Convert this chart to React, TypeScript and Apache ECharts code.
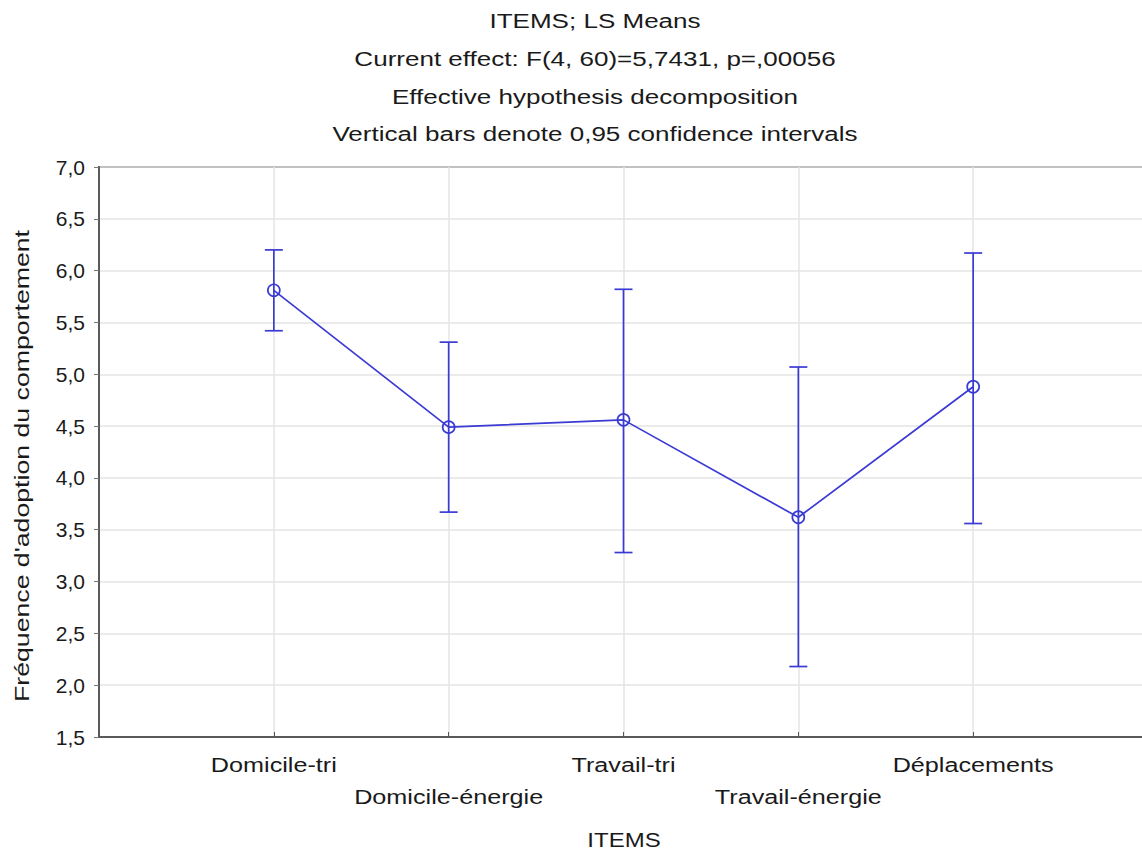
import React, { useEffect, useRef } from "react";
import * as echarts from "echarts";

const categories = ["Domicile-tri", "Domicile-énergie", "Travail-tri", "Travail-énergie", "Déplacements"];
const means = [5.81, 4.49, 4.56, 3.62, 4.88];
const lowerCI = [5.42, 3.67, 3.28, 2.18, 3.56];
const upperCI = [6.20, 5.31, 5.82, 5.07, 6.17];
const titleLines = [
  "ITEMS; LS Means",
  "Current effect: F(4, 60)=5,7431, p=,00056",
  "Effective hypothesis decomposition",
  "Vertical bars denote 0,95 confidence intervals",
];
const yAxisName = "Fréquence d'adoption du comportement";
const xAxisName = "ITEMS";

const BLUE = "#3a3ad4";
const TEXT = "#1a1a1a";
const FONT = "'Liberation Sans', Arial, sans-serif";

export default function App() {
  const ref = useRef<HTMLDivElement>(null);
  useEffect(() => {
    if (!ref.current) return;
    const chart = echarts.init(ref.current, null, { renderer: "svg" });
    const meanData = means.map((m, i) => [i + 1, m]);
    const errData = means.map((_, i) => [i + 1, lowerCI[i], upperCI[i]]);
    const labelData = categories.map((c, i) => [i + 1, 1.5, c]);
    chart.setOption({
      animation: false,
      backgroundColor: "#ffffff",
      textStyle: { fontFamily: FONT },
      graphic: [
        ...titleLines.map((t, i) => ({
          type: "text",
          x: 595,
          y: 21 + i * 37.7,
          scaleX: 1.24,
          style: {
            text: t,
            fontSize: 21,
            fontFamily: FONT,
            fill: TEXT,
            textAlign: "center",
            textVerticalAlign: "middle",
          },
        })),
        {
          type: "text",
          x: 624,
          y: 840,
          scaleX: 1.2,
          style: {
            text: xAxisName,
            fontSize: 20,
            fontFamily: FONT,
            fill: TEXT,
            textAlign: "center",
            textVerticalAlign: "middle",
          },
        },
        {
          type: "text",
          x: 22,
          y: 466,
          rotation: Math.PI / 2,
          scaleX: 1.27,
          style: {
            text: yAxisName,
            fontSize: 21,
            fontFamily: FONT,
            fill: TEXT,
            textAlign: "center",
            textVerticalAlign: "middle",
          },
        },
      ],
      grid: {
        left: 99,
        top: 167,
        right: 12,
        bottom: 114,
        show: true,
        borderColor: "#5a5a5a",
        borderWidth: 2,
        backgroundColor: "#ffffff",
      },
      xAxis: {
        type: "value",
        min: 0,
        max: 6,
        interval: 1,
        axisLine: { show: true, lineStyle: { color: "#5a5a5a", width: 2 } },
        axisTick: { show: true, inside: true, length: 5, lineStyle: { color: "#555" } },
        splitLine: { show: true, lineStyle: { color: "#e4e4e4", width: 1.5 } },
        axisLabel: { show: false },
      },
      yAxis: {
        type: "value",
        min: 1.5,
        max: 7,
        interval: 0.5,
        axisLine: { show: true, lineStyle: { color: "#5a5a5a", width: 2 } },
        axisTick: { show: true, inside: false, length: 5, lineStyle: { color: "#777" } },
        splitLine: { show: true, lineStyle: { color: "#e4e4e4", width: 1.5 } },
        axisLabel: {
          margin: 14,
          fontSize: 21,
          color: TEXT,
          fontFamily: FONT,
          formatter: (v: number) => v.toFixed(1).replace(".", ","),
        },
      },
      series: [
        {
          type: "custom",
          data: labelData,
          silent: true,
          clip: false,
          renderItem: (params: any, api: any) => {
            const idx = params.dataIndex;
            const p = api.coord([api.value(0), api.value(1)]);
            return {
              type: "text",
              x: p[0],
              y: p[1] + (idx % 2 === 1 ? 60 : 28),
              scaleX: 1.2,
              style: {
                text: categories[idx],
                fontSize: 21,
                fontFamily: FONT,
                fill: TEXT,
                textAlign: "center",
                textVerticalAlign: "middle",
              },
            };
          },
        },
        {
          type: "custom",
          data: errData,
          z: 3,
          renderItem: (params: any, api: any) => {
            const x = api.value(0);
            const lo = api.coord([x, api.value(1)]);
            const hi = api.coord([x, api.value(2)]);
            const hw = 9;
            const style = { stroke: BLUE, lineWidth: 1.7 };
            return {
              type: "group",
              children: [
                { type: "line", shape: { x1: lo[0], y1: lo[1], x2: hi[0], y2: hi[1] }, style },
                { type: "line", shape: { x1: hi[0] - hw, y1: hi[1], x2: hi[0] + hw, y2: hi[1] }, style },
                { type: "line", shape: { x1: lo[0] - hw, y1: lo[1], x2: lo[0] + hw, y2: lo[1] }, style },
              ],
            };
          },
        },
        {
          type: "line",
          data: meanData,
          z: 4,
          symbol: "circle",
          symbolSize: 12,
          lineStyle: { color: BLUE, width: 1.7 },
          itemStyle: { color: "rgba(255,255,255,0)", borderColor: BLUE, borderWidth: 1.7 },
        },
      ],
    });
    return () => chart.dispose();
  }, []);
  return (
    <div style={{ position: "absolute", left: 0, top: 0, width: 1142, height: 851, overflow: "hidden" }}>
      <div ref={ref} style={{ width: 1160, height: 851 }} />
    </div>
  );
}
